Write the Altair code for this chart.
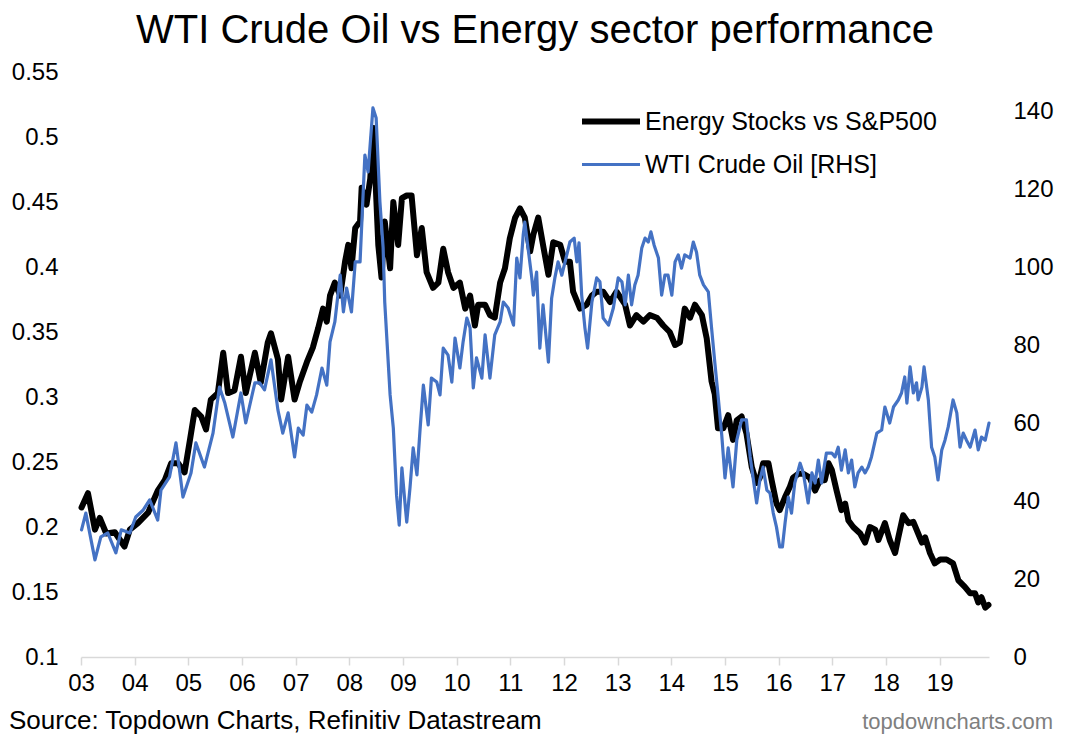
import altair as alt
import pandas as pd

# ---------------- data ----------------
energy_years = [
    2003.01, 2003.13, 2003.26, 2003.35, 2003.47, 2003.63, 2003.81, 2003.91, 2004.06, 2004.25,
    2004.43, 2004.56, 2004.68, 2004.81, 2004.93, 2005.03, 2005.12, 2005.24, 2005.33, 2005.42,
    2005.55, 2005.65, 2005.74, 2005.86, 2005.98, 2006.07, 2006.24, 2006.35, 2006.48, 2006.54,
    2006.67, 2006.73, 2006.86, 2006.98, 2007.08, 2007.21, 2007.32, 2007.42, 2007.51, 2007.58,
    2007.64, 2007.73, 2007.83, 2007.92, 2007.98, 2008.04, 2008.11, 2008.20, 2008.23, 2008.32,
    2008.39, 2008.45, 2008.50, 2008.54, 2008.60, 2008.66, 2008.76, 2008.82, 2008.91, 2008.98,
    2009.07, 2009.16, 2009.26, 2009.35, 2009.44, 2009.56, 2009.66, 2009.75, 2009.84, 2009.94,
    2010.06, 2010.16, 2010.25, 2010.34, 2010.40, 2010.53, 2010.62, 2010.71, 2010.81, 2010.90,
    2010.99, 2011.09, 2011.18, 2011.27, 2011.37, 2011.43, 2011.52, 2011.61, 2011.71, 2011.80,
    2011.93, 2012.02, 2012.11, 2012.17, 2012.30, 2012.42, 2012.52, 2012.61, 2012.73, 2012.86,
    2012.98, 2013.14, 2013.23, 2013.35, 2013.48, 2013.60, 2013.73, 2013.85, 2013.97, 2014.07,
    2014.16, 2014.25, 2014.35, 2014.44, 2014.57, 2014.66, 2014.75, 2014.81, 2014.87, 2014.97,
    2015.06, 2015.15, 2015.22, 2015.31, 2015.40, 2015.50, 2015.59, 2015.65, 2015.71, 2015.81,
    2015.87, 2015.96, 2016.02, 2016.12, 2016.21, 2016.27, 2016.37, 2016.46, 2016.58, 2016.68,
    2016.77, 2016.86, 2016.93, 2016.99, 2017.08, 2017.17, 2017.24, 2017.30, 2017.39, 2017.52,
    2017.61, 2017.70, 2017.80, 2017.86, 2017.98, 2018.07, 2018.17, 2018.23, 2018.32, 2018.42,
    2018.51, 2018.60, 2018.67, 2018.73, 2018.82, 2018.91, 2019.01, 2019.13, 2019.25, 2019.35,
    2019.47, 2019.57, 2019.66, 2019.72, 2019.78, 2019.85, 2019.91,
]
energy_values = [
    0.215, 0.226, 0.198, 0.207, 0.195, 0.196, 0.185, 0.198, 0.203, 0.211,
    0.228, 0.236, 0.249, 0.249, 0.242, 0.267, 0.290, 0.285, 0.275, 0.298,
    0.303, 0.334, 0.303, 0.305, 0.331, 0.303, 0.334, 0.311, 0.342, 0.349,
    0.329, 0.298, 0.331, 0.298, 0.312, 0.327, 0.338, 0.353, 0.368, 0.358,
    0.378, 0.388, 0.378, 0.404, 0.417, 0.399, 0.430, 0.435, 0.461, 0.448,
    0.468, 0.507, 0.455, 0.417, 0.392, 0.435, 0.399, 0.450, 0.417, 0.453,
    0.455, 0.455, 0.409, 0.430, 0.396, 0.384, 0.388, 0.414, 0.396, 0.384,
    0.388, 0.368, 0.378, 0.355, 0.371, 0.371, 0.363, 0.361, 0.388, 0.399,
    0.422, 0.438, 0.445, 0.438, 0.412, 0.425, 0.438, 0.417, 0.394, 0.419,
    0.417, 0.404, 0.404, 0.381, 0.368, 0.371, 0.378, 0.381, 0.381, 0.373,
    0.381, 0.371, 0.355, 0.363, 0.358, 0.363, 0.361, 0.355, 0.350, 0.340,
    0.342, 0.368, 0.361, 0.371, 0.363, 0.345, 0.312, 0.302, 0.276, 0.276,
    0.286, 0.267, 0.282, 0.285, 0.272, 0.246, 0.234, 0.238, 0.249, 0.249,
    0.236, 0.218, 0.213, 0.223, 0.231, 0.238, 0.241, 0.241, 0.238, 0.228,
    0.236, 0.236, 0.249, 0.244, 0.228, 0.213, 0.218, 0.205, 0.200, 0.195,
    0.188, 0.200, 0.198, 0.190, 0.203, 0.190, 0.180, 0.192, 0.209, 0.203,
    0.204, 0.195, 0.188, 0.192, 0.180, 0.172, 0.175, 0.175, 0.172, 0.159,
    0.154, 0.149, 0.149, 0.142, 0.146, 0.138, 0.140,
]

wti_years = [
    2003.01, 2003.09, 2003.26, 2003.37, 2003.50, 2003.65, 2003.75, 2003.91, 2004.02, 2004.16,
    2004.28, 2004.43, 2004.49, 2004.65, 2004.77, 2004.90, 2005.05, 2005.14, 2005.30, 2005.46,
    2005.58, 2005.68, 2005.83, 2005.98, 2006.07, 2006.24, 2006.33, 2006.42, 2006.54, 2006.67,
    2006.76, 2006.86, 2006.98, 2007.05, 2007.14, 2007.21, 2007.30, 2007.39, 2007.49, 2007.58,
    2007.64, 2007.73, 2007.83, 2007.89, 2007.95, 2008.04, 2008.11, 2008.20, 2008.29, 2008.35,
    2008.44, 2008.50, 2008.57, 2008.63, 2008.66, 2008.76, 2008.82, 2008.88, 2008.93, 2008.98,
    2009.04, 2009.07, 2009.13, 2009.19, 2009.26, 2009.32, 2009.38, 2009.47, 2009.53, 2009.63,
    2009.69, 2009.75, 2009.84, 2009.91, 2009.97, 2010.06, 2010.12, 2010.19, 2010.25, 2010.31,
    2010.37, 2010.47, 2010.53, 2010.62, 2010.71, 2010.81, 2010.87, 2010.96, 2011.06, 2011.12,
    2011.18, 2011.24, 2011.27, 2011.33, 2011.40, 2011.43, 2011.49, 2011.55, 2011.61, 2011.71,
    2011.77, 2011.83, 2011.89, 2011.96, 2012.02, 2012.11, 2012.19, 2012.24, 2012.28, 2012.33,
    2012.39, 2012.44, 2012.52, 2012.61, 2012.67, 2012.73, 2012.83, 2012.92, 2013.01, 2013.08,
    2013.14, 2013.20, 2013.26, 2013.32, 2013.38, 2013.45, 2013.51, 2013.57, 2013.62, 2013.68,
    2013.76, 2013.82, 2013.88, 2013.94, 2014.01, 2014.07, 2014.13, 2014.19, 2014.25, 2014.35,
    2014.41, 2014.47, 2014.53, 2014.60, 2014.69, 2014.75, 2014.81, 2014.87, 2014.94, 2015.00,
    2015.06, 2015.15, 2015.22, 2015.31, 2015.40, 2015.47, 2015.53, 2015.59, 2015.65, 2015.71,
    2015.78, 2015.84, 2015.90, 2015.96, 2016.02, 2016.07, 2016.12, 2016.18, 2016.24, 2016.30,
    2016.40, 2016.46, 2016.55, 2016.62, 2016.68, 2016.74, 2016.80, 2016.89, 2016.99, 2017.05,
    2017.11, 2017.17, 2017.24, 2017.30, 2017.36, 2017.42, 2017.48, 2017.55, 2017.61, 2017.67,
    2017.73, 2017.83, 2017.92, 2017.98, 2018.07, 2018.14, 2018.23, 2018.29, 2018.35, 2018.39,
    2018.45, 2018.51, 2018.57, 2018.60, 2018.67, 2018.71, 2018.79, 2018.85, 2018.91, 2018.97,
    2019.04, 2019.10, 2019.16, 2019.25, 2019.32, 2019.38, 2019.44, 2019.50, 2019.57, 2019.66,
    2019.72, 2019.78, 2019.85, 2019.92,
]
wti_values = [
    32.6, 36.9, 24.9, 30.8, 31.8, 26.7, 32.6, 31.8, 35.9, 37.7,
    40.3, 35.1, 42.8, 46.2, 54.9, 41.0, 47.2, 54.9, 48.7, 57.4,
    69.2, 65.1, 56.4, 67.7, 60.0, 70.3, 70.3, 68.5, 76.2, 63.3,
    57.4, 62.6, 51.3, 58.7, 56.9, 64.6, 62.8, 67.2, 74.1, 69.7,
    80.8, 85.9, 97.9, 88.5, 94.6, 88.5, 101.3, 101.3, 128.7, 124.4,
    140.8, 138.2, 116.7, 104.9, 91.0, 67.2, 58.7, 41.5, 33.8, 48.5,
    39.0, 34.6, 43.3, 53.6, 46.7, 58.7, 69.7, 59.5, 71.5, 70.5,
    67.2, 79.2, 77.4, 70.5, 81.8, 74.1, 80.8, 86.9, 84.4, 69.0,
    76.7, 71.5, 82.6, 71.5, 82.6, 85.9, 91.0, 89.5, 85.1, 102.3,
    97.2, 108.2, 111.5, 104.9, 97.2, 92.8, 98.7, 79.2, 90.3, 75.6,
    92.0, 97.2, 101.3, 97.9, 101.3, 106.4, 107.4, 101.3, 106.2, 92.8,
    84.4, 79.2, 91.0, 97.2, 96.2, 86.9, 85.1, 89.5, 97.2, 96.2,
    90.3, 97.9, 90.3, 95.4, 97.9, 104.9, 107.4, 106.4, 109.0, 105.6,
    102.3, 92.8, 97.9, 97.9, 92.8, 101.3, 103.1, 99.7, 103.1, 102.3,
    106.4, 103.8, 97.9, 95.4, 93.6, 84.4, 75.6, 67.2, 56.9, 45.9,
    53.6, 43.6, 55.6, 60.8, 60.8, 51.3, 45.4, 39.5, 45.4, 48.7,
    42.8, 42.0, 36.9, 33.3, 28.2, 28.2, 34.4, 41.0, 36.9, 44.6,
    49.7, 47.2, 39.5, 47.2, 44.6, 50.5, 44.6, 52.3, 52.3, 51.3,
    53.8, 47.9, 53.1, 47.2, 50.5, 43.6, 47.2, 48.7, 47.2, 48.7,
    51.3, 57.4, 58.2, 64.1, 60.0, 64.1, 65.9, 67.7, 71.8, 65.1,
    74.4, 67.7, 70.3, 65.9, 69.2, 74.4, 65.9, 53.8, 51.3, 45.4,
    53.1, 55.6, 59.0, 65.9, 62.6, 53.8, 57.4, 55.6, 53.8, 58.2,
    53.1, 56.4, 55.6, 60.0,
]

series_names = ["Energy Stocks vs S&P500", "WTI Crude Oil [RHS]"]
series_colors = ["#000000", "#4472C4"]
series_widths = [6, 3.2]

x_ticks = list(range(2003, 2020))
left_ticks = [0.1, 0.15, 0.2, 0.25, 0.3, 0.35, 0.4, 0.45, 0.5, 0.55]
right_ticks = [0, 20, 40, 60, 80, 100, 120, 140]

title_text = "WTI Crude Oil vs Energy sector performance"
source_text = "Source: Topdown Charts, Refinitiv Datastream"
site_text = "topdowncharts.com"

FONT = "Liberation Sans"

energy_df = pd.DataFrame({"year": energy_years, "value": energy_values, "series": series_names[0]})
wti_df = pd.DataFrame({"year": wti_years, "value": wti_values, "series": series_names[1]})

x_enc = alt.X(
    "year:Q",
    scale=alt.Scale(domain=[2003, 2019.92], nice=False, zero=False),
    axis=alt.Axis(
        values=x_ticks,
        labelExpr="substring(toString(datum.value), 2)",
        grid=False,
        domainColor="#d9d9d9",
        domainWidth=1.5,
        tickColor="#d9d9d9",
        tickWidth=1.5,
        tickSize=8,
        labelPadding=6,
        labelFontSize=24,
        labelFont=FONT,
        labelColor="#000000",
        labelFlush=False,
        labelOverlap=False,
        title=None,
    ),
)

color_enc = alt.Color(
    "series:N",
    scale=alt.Scale(domain=series_names, range=series_colors),
    legend=alt.Legend(
        title=None,
        orient="none",
        legendX=498,
        legendY=37,
        symbolType="stroke",
        symbolSize=3364,
        labelFontSize=25,
        labelFont=FONT,
        labelColor="#000000",
        labelOffset=2,
        labelLimit=0,
        clipHeight=25,
        rowPadding=17,
    ),
)
width_enc = alt.StrokeWidth(
    "series:N",
    scale=alt.Scale(domain=series_names, range=series_widths),
    legend=None,
)

energy_line = (
    alt.Chart(energy_df)
    .mark_line(strokeJoin="round", strokeCap="round")
    .encode(
        x=x_enc,
        y=alt.Y(
            "value:Q",
            scale=alt.Scale(domain=[0.1, 0.55], nice=False, zero=False),
            axis=alt.Axis(
                orient="left",
                values=left_ticks,
                labelExpr="format(datum.value, '.2~f')",
                grid=False,
                domain=False,
                ticks=False,
                labelPadding=23,
                labelFontSize=24,
                labelFont=FONT,
                labelColor="#000000",
                title=None,
            ),
        ),
        color=color_enc,
        strokeWidth=width_enc,
    )
)

wti_line = (
    alt.Chart(wti_df)
    .mark_line(strokeJoin="round", strokeCap="round")
    .encode(
        x=x_enc,
        y=alt.Y(
            "value:Q",
            scale=alt.Scale(domain=[0, 150], nice=False, zero=False),
            axis=alt.Axis(
                orient="right",
                values=right_ticks,
                grid=False,
                domain=False,
                ticks=False,
                labelAlign="left",
                labelPadding=24,
                labelFontSize=24,
                labelFont=FONT,
                labelColor="#000000",
                title=None,
            ),
        ),
        color=color_enc,
        strokeWidth=width_enc,
    )
)

source_mark = (
    alt.Chart(pd.DataFrame({"t": [source_text]}))
    .mark_text(align="left", baseline="middle", fontSize=26, font=FONT, color="#000000")
    .encode(text="t:N", x=alt.value(-72), y=alt.value(649))
)
site_mark = (
    alt.Chart(pd.DataFrame({"t": [site_text]}))
    .mark_text(align="right", baseline="middle", fontSize=22, font=FONT, color="#7f7f7f")
    .encode(text="t:N", x=alt.value(972), y=alt.value(650))
)

chart = (
    alt.layer(energy_line, wti_line, source_mark, site_mark)
    .resolve_scale(y="independent")
    .properties(
        width=908,
        height=585,
        title=alt.TitleParams(
            text=title_text,
            fontSize=40,
            font=FONT,
            fontWeight="normal",
            color="#000000",
            anchor="middle",
            frame="group",
            offset=9,
        ),
        autosize=alt.AutoSizeParams(type="none"),
        padding={"left": 73, "top": 64, "right": 70, "bottom": 85},
    )
    .configure_view(stroke=None)
)

chart.save("out.html", embed_options={"renderer": "svg", "actions": False})
